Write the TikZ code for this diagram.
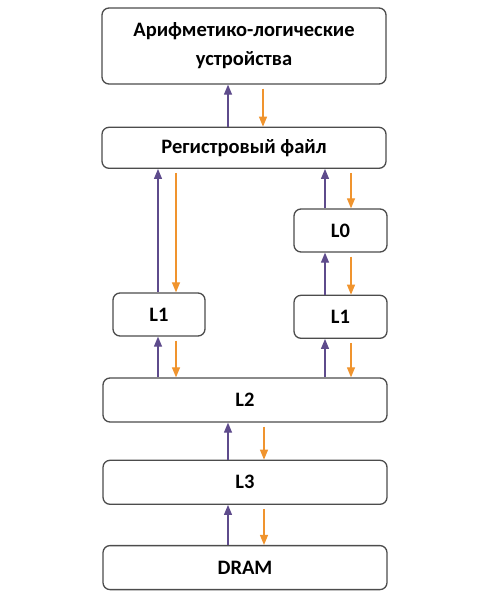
\documentclass[tikz,border=0pt]{standalone}
\usepackage{fontspec}
\setmainfont{Carlito}
\usepackage{tikz}
\usetikzlibrary{arrows.meta}
\usetikzlibrary{positioning}
\definecolor{upcol}{HTML}{5E4B8C}
\definecolor{downcol}{HTML}{F0942E}
\tikzstyle{block}=[draw=black!70,line width=1.3pt,rounded corners=7pt,fill=white,inner sep=0pt,align=center,font=\fontsize{20.5}{29}\selectfont\bfseries]
\tikzstyle{uparrow}=[draw=upcol,line width=1.2pt,-{Triangle[length=10pt,width=8pt]}]
\tikzstyle{downarrow}=[draw=downcol,line width=1.2pt,-{Triangle[length=10pt,width=8pt]}]

\begin{document}
\begin{tikzpicture}[x=1pt,y=1pt]
\useasboundingbox (0,0) rectangle (489,-600);

\node [block,minimum width=284pt,minimum height=76pt] (alu) at (244,-46) {Арифметико-логические\\устройства};
\node [block,minimum width=284pt,minimum height=41pt,below=42pt of alu] (reg) {Регистровый файл};

\node [block,minimum width=92pt,minimum height=43pt] (l1a) at (159,-314.5) {L1};
\node [block,minimum width=93pt,minimum height=43pt] (l0) at (340.5,-230.5) {L0};
\node [block,minimum width=93pt,minimum height=43pt,below=42pt of l0] (l1b) {L1};

\node [block,minimum width=284pt,minimum height=44pt] (l2) at (245,-400) {L2};
\node [block,minimum width=284pt,minimum height=44pt,below=37pt of l2] (l3) {L3};
\node [block,minimum width=284pt,minimum height=44pt,below=40pt of l3] (dram) {DRAM};

% main column
\draw[uparrow] ([xshift=-16pt]reg.north) -- ([xshift=-16pt]alu.south);
\draw[downarrow] ([xshift=19pt,yshift=-4pt]alu.south) -- ([xshift=19pt]reg.north);
\foreach \lo/\hi in {l3/l2, dram/l3} {
  \draw[uparrow] ([xshift=-17pt]\lo.north) -- ([xshift=-17pt]\hi.south);
  \draw[downarrow] ([xshift=19pt,yshift=-4pt]\hi.south) -- ([xshift=19pt]\lo.north);
}

% left L1
\draw[uparrow] ([xshift=-1pt]l1a.north) -- ([xshift=-1pt]l1a.north |- reg.south);
\draw[downarrow] ([xshift=17pt,yshift=-4pt]l1a.north |- reg.south) -- ([xshift=17pt]l1a.north);
\draw[uparrow] ([xshift=-1pt]l1a.south |- l2.north) -- ([xshift=-1pt]l1a.south);
\draw[downarrow] ([xshift=17pt,yshift=-4pt]l1a.south) -- ([xshift=17pt]l1a.south |- l2.north);

% right L0 / L1
\draw[uparrow] ([xshift=-15.5pt]l0.north) -- ([xshift=-15.5pt]l0.north |- reg.south);
\draw[downarrow] ([xshift=10.5pt,yshift=-4pt]l0.north |- reg.south) -- ([xshift=10.5pt]l0.north);
\draw[uparrow] ([xshift=-15.5pt]l1b.north) -- ([xshift=-15.5pt]l0.south);
\draw[downarrow] ([xshift=10.5pt,yshift=-4pt]l0.south) -- ([xshift=10.5pt]l1b.north);
\draw[uparrow] ([xshift=-15.5pt]l1b.south |- l2.north) -- ([xshift=-15.5pt]l1b.south);
\draw[downarrow] ([xshift=10.5pt,yshift=-4pt]l1b.south) -- ([xshift=10.5pt]l1b.south |- l2.north);

\end{tikzpicture}
\end{document}
